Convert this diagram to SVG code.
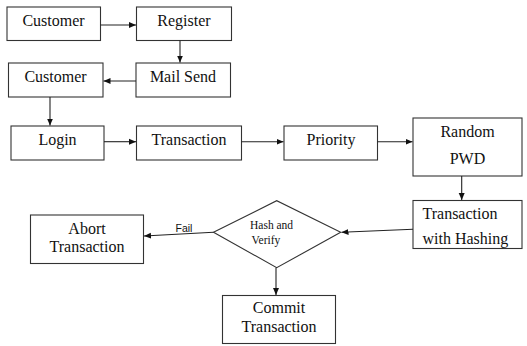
<svg xmlns="http://www.w3.org/2000/svg" width="527" height="346" viewBox="0 0 527 346">
  <defs>
    <marker id="arrow" markerWidth="8" markerHeight="8" refX="7" refY="4" orient="auto" markerUnits="userSpaceOnUse">
      <path d="M0,1 L7,4 L0,7 Z" fill="#111"/>
    </marker>
    <style>
      .box { fill: #fff; stroke: #333; stroke-width: 1.1; }
      .lbl { font-family: 'Liberation Serif', 'DejaVu Serif', Times, serif; font-size: 16px; fill: #111; text-anchor: middle; }
      .left { text-anchor: start; }
      .small { font-family: 'Liberation Serif', 'DejaVu Serif', Times, serif; font-size: 11.5px; fill: #111; }
      .edge { fill: none; stroke: #222; stroke-width: 1.1; }
      .elbl { font-family: 'Liberation Sans', Arial, sans-serif; font-size: 10.5px; fill: #111; }
    </style>
  </defs>
  <rect width="527" height="346" fill="#fff"/>

  <!-- nodes -->
  <g id="customer1">
    <rect class="box" x="7" y="7" width="93.5" height="33.5"/>
    <text class="lbl" x="53.5" y="26">Customer</text>
  </g>
  <g id="register">
    <rect class="box" x="136.5" y="7" width="95" height="33.5"/>
    <text class="lbl" x="184" y="26">Register</text>
  </g>
  <g id="customer2">
    <rect class="box" x="8.5" y="63" width="94.5" height="34"/>
    <text class="lbl" x="55.5" y="82">Customer</text>
  </g>
  <g id="mail-send">
    <rect class="box" x="136" y="63" width="94.5" height="34"/>
    <text class="lbl" x="183" y="82">Mail Send</text>
  </g>
  <g id="login">
    <rect class="box" x="11" y="126" width="93" height="34"/>
    <text class="lbl" x="57.5" y="145">Login</text>
  </g>
  <g id="transaction">
    <rect class="box" x="136.5" y="126" width="105" height="34"/>
    <text class="lbl" x="189" y="145">Transaction</text>
  </g>
  <g id="priority">
    <rect class="box" x="284" y="126" width="93.5" height="34"/>
    <text class="lbl" x="331" y="145">Priority</text>
  </g>
  <g id="random-pwd">
    <rect class="box" x="413" y="118" width="109" height="58"/>
    <text class="lbl" x="467.5" y="137">Random</text>
    <text class="lbl" x="467.5" y="164">PWD</text>
  </g>
  <g id="transaction-hashing">
    <rect class="box" x="413" y="200.5" width="109" height="48"/>
    <text class="lbl left" x="422.5" y="218.5">Transaction</text>
    <text class="lbl left" x="422.5" y="243.5">with Hashing</text>
  </g>
  <g id="hash-verify">
    <polygon class="box" points="213.5,232.3 276.7,200.7 340.7,232.3 276.7,267.7"/>
    <text class="small" x="250" y="228.5">Hash and</text>
    <text class="small" x="251.5" y="243.5">Verify</text>
  </g>
  <g id="abort-transaction">
    <rect class="box" x="30.5" y="215" width="113" height="48.5"/>
    <text class="lbl" x="87" y="233.5">Abort</text>
    <text class="lbl" x="87" y="252">Transaction</text>
  </g>
  <g id="commit-transaction">
    <rect class="box" x="222.5" y="295.5" width="113" height="48"/>
    <text class="lbl" x="279" y="313">Commit</text>
    <text class="lbl" x="279" y="332">Transaction</text>
  </g>

  <!-- connectors -->
  <g id="connectors">
    <line class="edge" x1="100.5" y1="25" x2="136" y2="25" marker-end="url(#arrow)"/>
    <line class="edge" x1="180" y1="40.5" x2="180" y2="62.5" marker-end="url(#arrow)"/>
    <line class="edge" x1="136" y1="81" x2="103.5" y2="81" marker-end="url(#arrow)"/>
    <line class="edge" x1="50" y1="97" x2="50" y2="125.5" marker-end="url(#arrow)"/>
    <line class="edge" x1="104" y1="141.7" x2="136" y2="141.7" marker-end="url(#arrow)"/>
    <line class="edge" x1="241.5" y1="141.7" x2="283.5" y2="141.7" marker-end="url(#arrow)"/>
    <line class="edge" x1="377.5" y1="141.7" x2="412.5" y2="141.7" marker-end="url(#arrow)"/>
    <line class="edge" x1="461.7" y1="176" x2="461.7" y2="200" marker-end="url(#arrow)"/>
    <line class="edge" x1="413" y1="229.3" x2="341.5" y2="232.3" marker-end="url(#arrow)"/>
    <line class="edge" x1="213.5" y1="232.3" x2="144" y2="236" marker-end="url(#arrow)"/>
    <text class="elbl" x="175.5" y="232">Fail</text>
    <line class="edge" x1="276" y1="267.7" x2="276" y2="295" marker-end="url(#arrow)"/>
  </g>
</svg>
